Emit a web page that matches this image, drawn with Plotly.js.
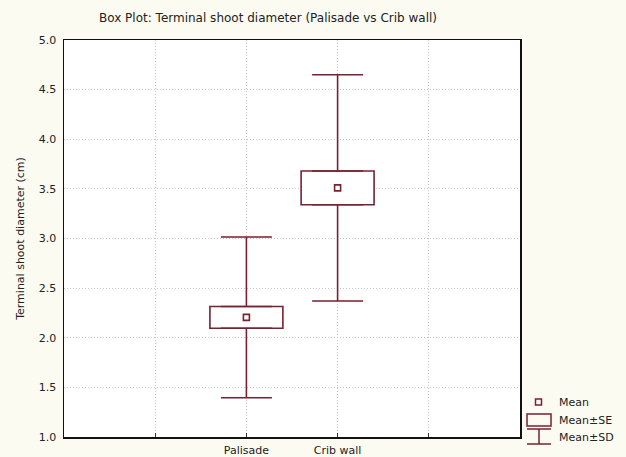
<!DOCTYPE html>
<html>
<head>
<meta charset="utf-8">
<script src="https://cdn.plot.ly/plotly-3.0.1.min.js"></script>
<style>html,body{margin:0;padding:0;background:#fcfbf2;}#chart{width:626px;height:457px;}</style>
</head>
<body>
<div id="chart"></div>
<script>
// Data
const categories = ['Palisade', 'Crib wall'];
const positions = [2, 3];
const means = [2.205, 3.51];
const se = [0.11, 0.17];
const sd = [0.81, 1.14];
const yTicks = [1.0, 1.5, 2.0, 2.5, 3.0, 3.5, 4.0, 4.5, 5.0];
const legendLabels = ['Mean', 'Mean±SE', 'Mean±SD'];

const col = '#7a2131';
const font = 'DejaVu Sans, Verdana, sans-serif';

const q1 = means.map((m, i) => m - se[i]);
const q3 = means.map((m, i) => m + se[i]);
const outer = sd.map((s, i) => s - se[i]);
const zeros = means.map(() => 0);

const traces = [
  // upper whisker (from box top to mean+SD)
  {
    type: 'scatter', mode: 'markers', x: positions, y: q3,
    marker: {size: 1, opacity: 0},
    error_y: {type: 'data', symmetric: false, array: outer, arrayminus: zeros,
              width: 25.5, thickness: 1.6, color: col},
    showlegend: false, hoverinfo: 'skip'
  },
  // lower whisker (from box bottom to mean-SD)
  {
    type: 'scatter', mode: 'markers', x: positions, y: q1,
    marker: {size: 1, opacity: 0},
    error_y: {type: 'data', symmetric: false, array: zeros, arrayminus: outer,
              width: 25.5, thickness: 1.6, color: col},
    showlegend: false, hoverinfo: 'skip'
  },
  // Mean ± SE box
  {
    type: 'bar', x: positions, base: q1, y: se.map(s => 2 * s), width: 0.8,
    marker: {color: '#ffffff', line: {color: col, width: 1.6}},
    showlegend: false, hoverinfo: 'skip'
  },
  // Mean marker
  {
    type: 'scatter', mode: 'markers', x: positions, y: means,
    marker: {symbol: 'square-open', size: 6, color: col, line: {color: col, width: 1.6}},
    showlegend: false, hoverinfo: 'skip'
  }
];

// custom legend (pixel-placed in paper coords)
const L = 64, R = 520, T = 40, B = 437;
const W = R - L, H = B - T;
const px = x => (x - L) / W;
const py = y => (B - y) / H;
const shapes = [
  {type: 'rect', xref: 'paper', yref: 'paper', x0: px(535.5), x1: px(541.5), y0: py(405), y1: py(399), line: {color: col, width: 1.5}},
  {type: 'rect', xref: 'paper', yref: 'paper', x0: px(527), x1: px(551), y0: py(426), y1: py(414), line: {color: col, width: 1.5}},
  {type: 'line', xref: 'paper', yref: 'paper', x0: px(527), x1: px(551), y0: py(429), y1: py(429), line: {color: col, width: 1.5}},
  {type: 'line', xref: 'paper', yref: 'paper', x0: px(539), x1: px(539), y0: py(429), y1: py(444), line: {color: col, width: 1.5}},
  {type: 'line', xref: 'paper', yref: 'paper', x0: px(527), x1: px(551), y0: py(444), y1: py(444), line: {color: col, width: 1.5}}
];
const legY = [402, 420, 437];
const annotations = legendLabels.map((t, i) => ({
  xref: 'paper', yref: 'paper', x: px(557), y: py(legY[i]), xanchor: 'left', yanchor: 'middle',
  text: t, showarrow: false, font: {family: font, size: 11, color: '#222'}
}));

const layout = {
  width: 626, height: 457,
  paper_bgcolor: '#fcfbf2', plot_bgcolor: '#ffffff',
  margin: {l: L, r: 626 - R, t: T, b: 457 - B, pad: 0},
  showlegend: false, barmode: 'overlay',
  title: {
    text: 'Box Plot: Terminal shoot diameter (Palisade vs Crib wall)',
    x: 268 / 626, xanchor: 'center', xref: 'container',
    y: 1 - 18 / 457, yanchor: 'middle', yref: 'container',
    font: {family: font, size: 12, color: '#222'}
  },
  xaxis: {
    type: 'linear', range: [0, 5],
    tickvals: [1, 2, 3, 4], ticktext: ['', categories[0], categories[1], ''],
    ticks: 'inside', ticklen: 4, tickcolor: '#333', ticklabelstandoff: 2,
    showgrid: true, gridcolor: '#c4c4c4', griddash: '1px,2px', gridwidth: 1,
    showline: true, mirror: true, linecolor: '#111', linewidth: 1.5,
    zeroline: false, tickfont: {family: font, size: 11, color: '#222'},
    fixedrange: true
  },
  yaxis: {
    range: [1, 5], tickvals: yTicks, ticktext: yTicks.map(v => v.toFixed(1)),
    ticks: '', ticklabelstandoff: 4,
    showgrid: true, gridcolor: '#c4c4c4', griddash: '1px,2px', gridwidth: 1,
    showline: true, mirror: true, linecolor: '#111', linewidth: 1.5,
    zeroline: false, tickfont: {family: font, size: 11, color: '#222'},
    title: {text: 'Terminal shoot diameter (cm)', font: {family: font, size: 11, color: '#222'}, standoff: 12},
    fixedrange: true
  },
  shapes: shapes,
  annotations: annotations
};

Plotly.newPlot('chart', traces, layout, {displayModeBar: false, staticPlot: true});
</script>
</body>
</html>
